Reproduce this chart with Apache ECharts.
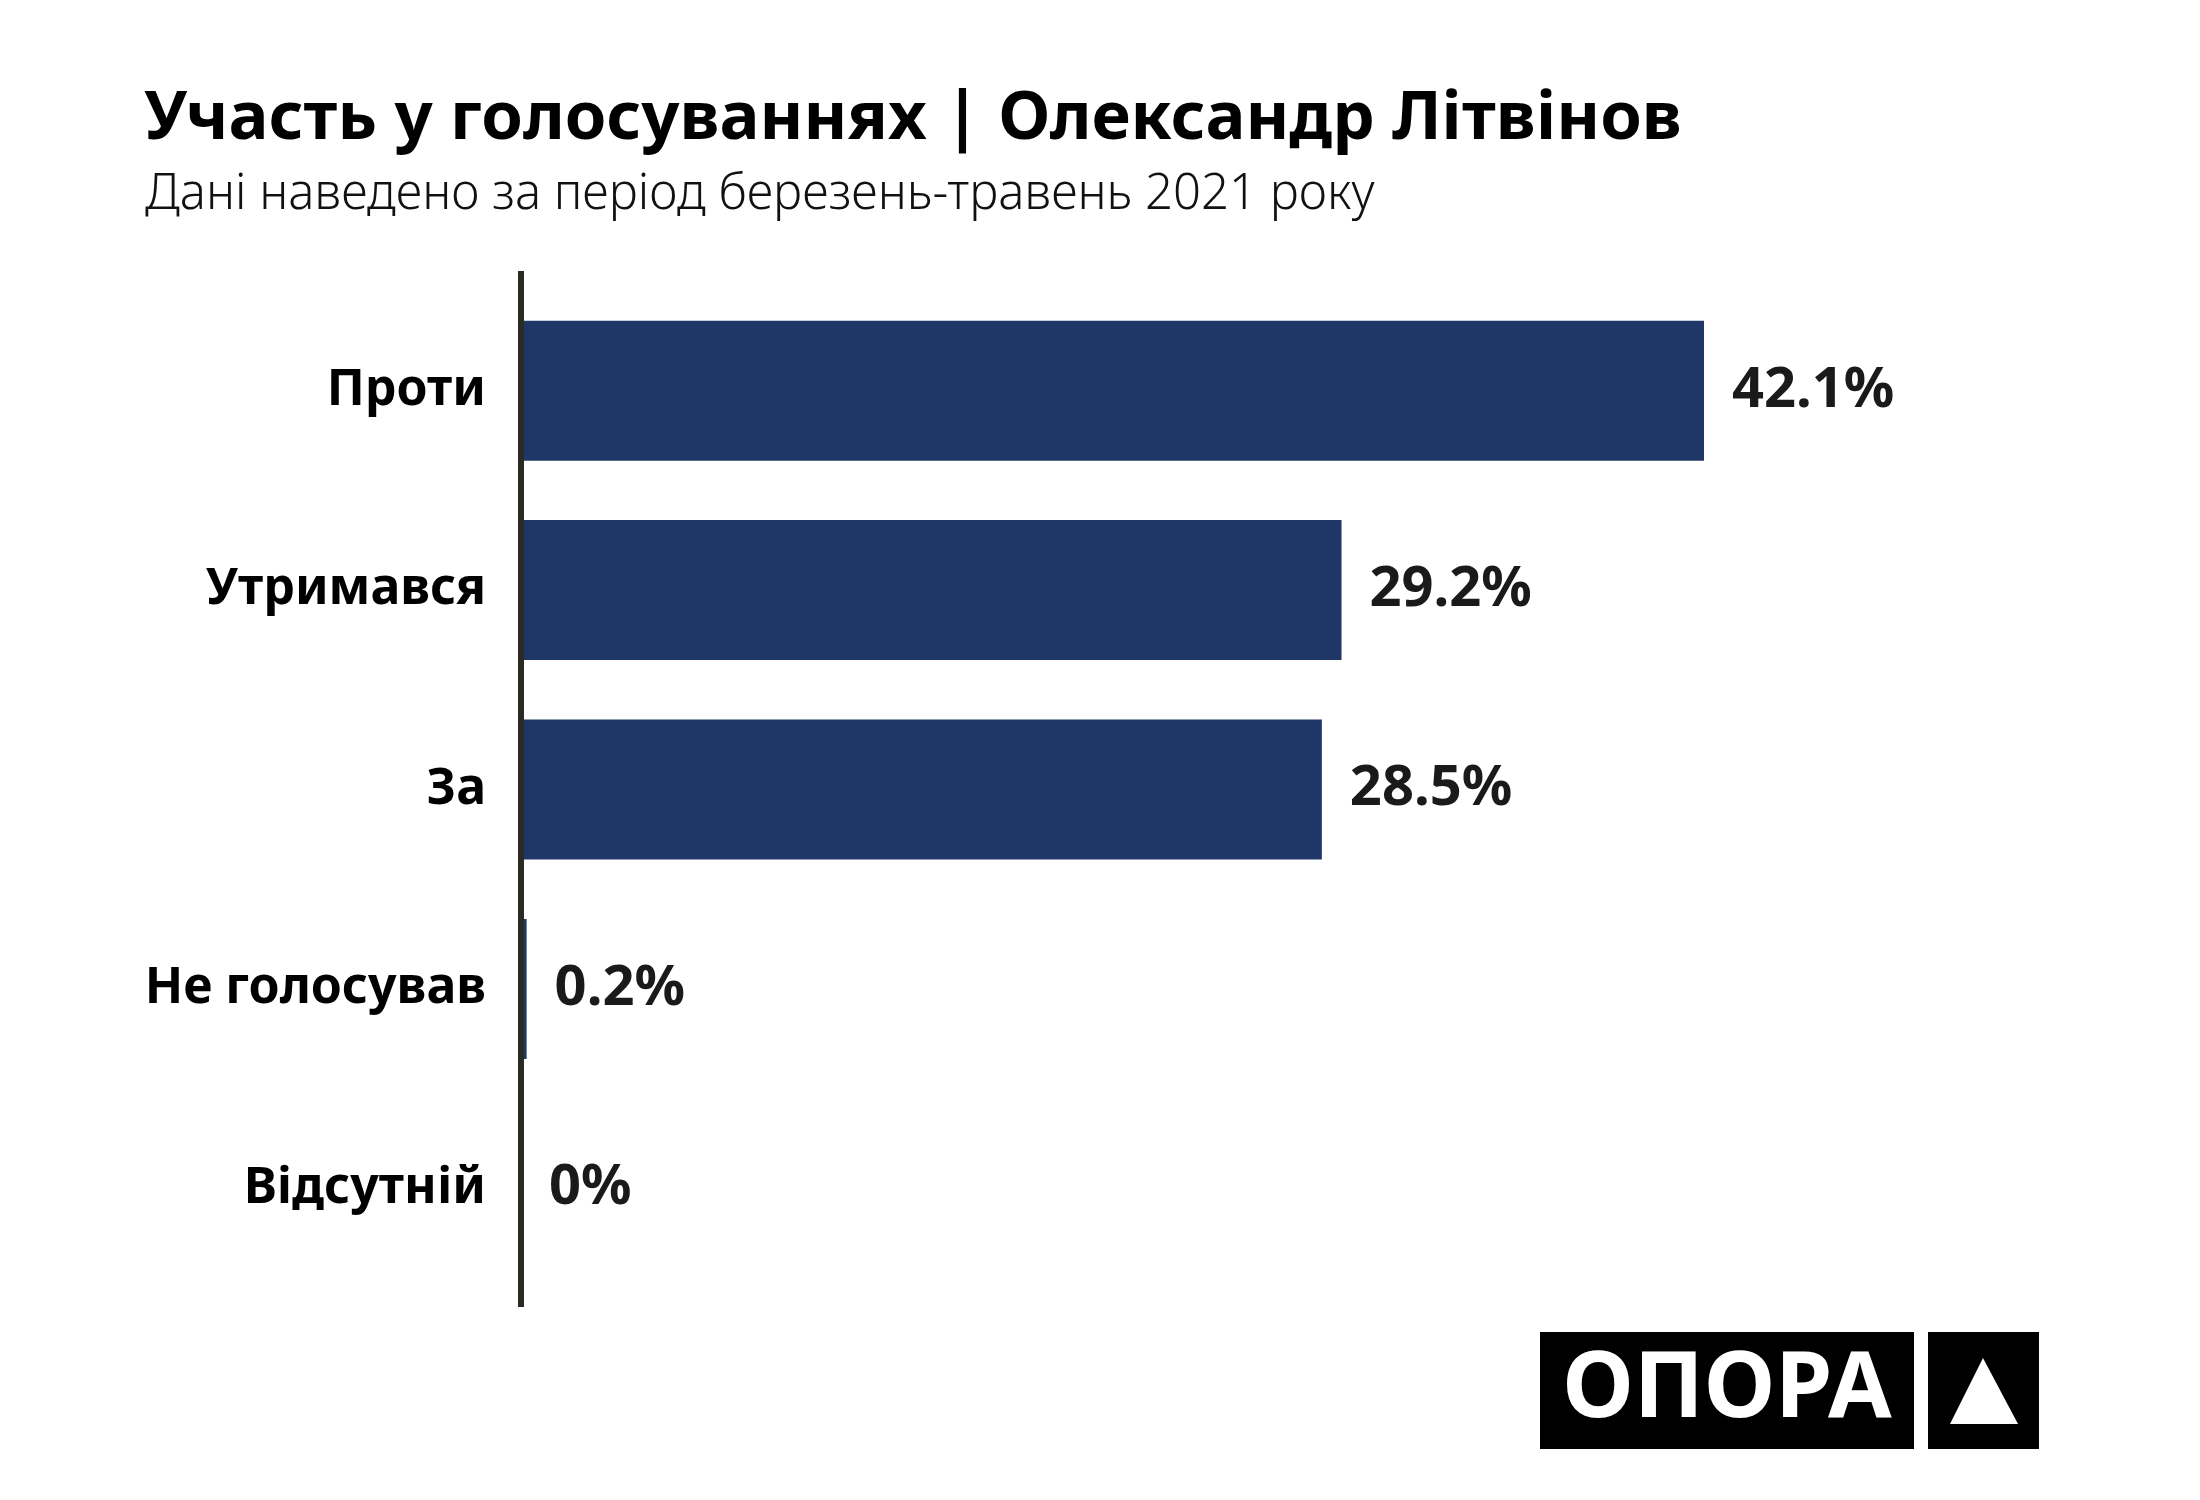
<!DOCTYPE html>
<html>
<head>
<meta charset="utf-8">
<script src="https://cdn.jsdelivr.net/npm/echarts@6/dist/echarts.min.js"></script>
<style>
  html, body { margin: 0; padding: 0; background: #fff; }
  #chart { width: 2200px; height: 1500px; }
</style>
</head>
<body>
<div id="chart"></div>
<script>
var categories = ['Проти', 'Утримався', 'За', 'Не голосував', 'Відсутній'];
var shares = [42.1, 29.2, 28.5, 0.2, 0];

(function() {
  var font = '"Noto Sans", "Open Sans", sans-serif';
  var barColor = '#1f3766';
  var axisColor = '#2a2b25';

  // plot area, in page pixels
  var gridLeft = 521;
  var gridTop = 291;
  var gridHeight = 997;
  var gridWidth = 1405;

  var chart = echarts.init(document.getElementById('chart'));
  chart.setOption({
    animation: false,
    backgroundColor: '#ffffff',
    title: [
      {
        text: 'Участь у голосуваннях | Олександр Літвінов',
        left: 139,
        top: 81,
        textStyle: { fontFamily: font, fontSize: 67, fontWeight: 'bold', color: '#000' }
      },
      {
        text: 'Дані наведено за період березень-травень 2021 року',
        left: 140,
        top: 166,
        textStyle: { fontFamily: font, fontSize: 49, fontWeight: 300, color: '#111' }
      }
    ],
    grid: {
      left: gridLeft,
      top: gridTop,
      width: gridWidth,
      height: gridHeight
    },
    xAxis: {
      type: 'value',
      min: 0,
      max: 50,
      show: false
    },
    yAxis: {
      type: 'category',
      data: categories,
      inverse: true,
      axisLine: { show: false },
      axisTick: { show: false },
      axisLabel: {
        margin: 35,
        padding: [8, 0, 0, 0],
        color: '#000',
        fontFamily: font,
        fontSize: 50,
        fontWeight: 'bold'
      }
    },
    series: [
      {
        type: 'bar',
        data: shares,
        barWidth: 140,
        itemStyle: { color: barColor },
        label: {
          show: true,
          position: 'right',
          distance: 28,
          padding: [8, 0, 0, 0],
          formatter: '{c}%',
          color: '#1a1a1a',
          fontFamily: font,
          fontSize: 56,
          fontWeight: 'bold'
        }
      }
    ],
    graphic: [
      // vertical axis, runs a little past the plot area like the original
      {
        type: 'line',
        z: 100,
        shape: { x1: gridLeft, y1: gridTop - 20, x2: gridLeft, y2: gridTop + gridHeight + 19 },
        style: { stroke: axisColor, lineWidth: 6 }
      },
      // ОПОРА logo
      {
        type: 'rect',
        shape: { x: 1540, y: 1332, width: 374, height: 117 },
        style: { fill: '#000' }
      },
      {
        type: 'text',
        x: 1727,
        y: 1391,
        style: {
          text: 'ОПОРА',
          fill: '#fff',
          font: 'bold 92px ' + font,
          textAlign: 'center',
          textVerticalAlign: 'middle'
        }
      },
      {
        type: 'rect',
        shape: { x: 1928, y: 1332, width: 111, height: 117 },
        style: { fill: '#000' }
      },
      {
        type: 'polygon',
        shape: { points: [[1983, 1358], [2018, 1424], [1950, 1424]] },
        style: { fill: '#fff' }
      }
    ]
  });
})();
</script>
</body>
</html>
